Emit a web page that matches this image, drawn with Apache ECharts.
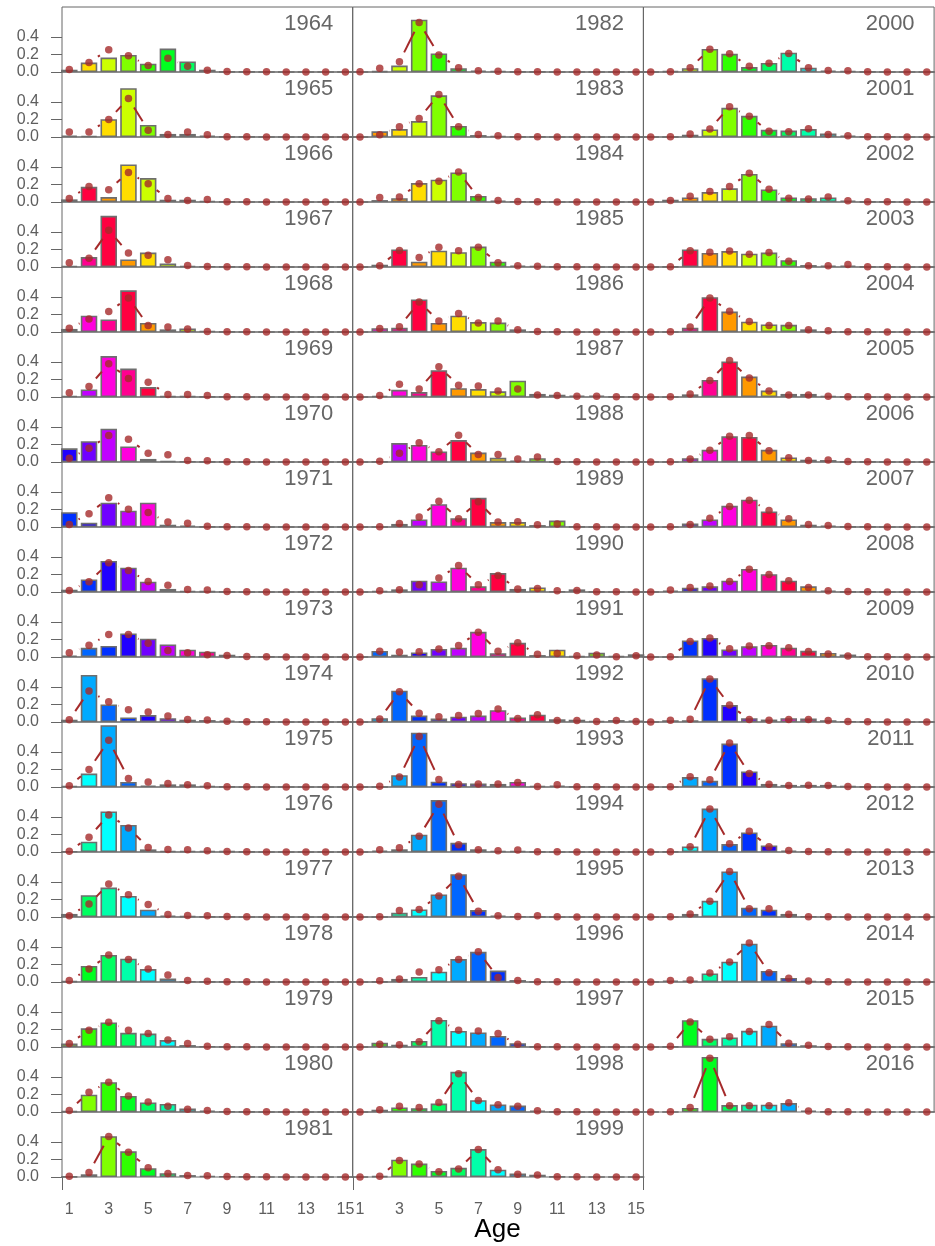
<!DOCTYPE html>
<html>
<head>
<meta charset="utf-8">
<script src="https://cdn.jsdelivr.net/npm/echarts@6/dist/echarts.min.js"></script>
<style>
  html, body { margin: 0; padding: 0; background: #ffffff; }
  #chart { width: 935px; height: 1246px; }
</style>
</head>
<body>
<div id="chart"></div>
<script>
// Age composition by year: observed proportions (bars) and expected proportions (points joined by a broken line)
const years = [
  1964, 1965, 1966, 1967, 1968, 1969, 1970, 1971, 1972, 1973, 1974, 1975, 1976, 1977, 1978, 1979, 1980, 1981,
  1982, 1983, 1984, 1985, 1986, 1987, 1988, 1989, 1990, 1991, 1992, 1993, 1994, 1995, 1996, 1997, 1998, 1999,
  2000, 2001, 2002, 2003, 2004, 2005, 2006, 2007, 2008, 2009, 2010, 2011, 2012, 2013, 2014, 2015, 2016
];
const ages = [1, 2, 3, 4, 5, 6, 7, 8, 9, 10, 11, 12, 13, 14, 15];

// observed proportion at age, one row per year
const observed = [
  [0.026,0.108,0.165,0.195,0.095,0.268,0.12,0.026,0.004,0.002,0.001,0,0,0,0],
  [0.015,0.012,0.203,0.558,0.138,0.035,0.035,0.015,0.004,0.002,0.001,0,0,0,0],
  [0.03,0.173,0.056,0.43,0.273,0.026,0.026,0.013,0.003,0.001,0,0,0,0,0],
  [0.01,0.113,0.585,0.087,0.165,0.04,0.013,0.005,0.002,0,0,0,0,0,0],
  [0.035,0.186,0.143,0.476,0.104,0.03,0.04,0.01,0.003,0,0,0,0,0,0],
  [0.013,0.087,0.468,0.325,0.113,0.009,0.008,0.004,0.002,0,0,0,0,0,0],
  [0.156,0.238,0.381,0.177,0.035,0.013,0.005,0.004,0.002,0,0,0,0,0,0],
  [0.169,0.048,0.277,0.186,0.277,0.026,0.017,0.004,0.002,0,0,0,0,0,0],
  [0.026,0.143,0.355,0.277,0.117,0.035,0.013,0.008,0.002,0,0,0,0,0,0],
  [0.017,0.105,0.127,0.27,0.21,0.144,0.083,0.061,0.026,0.005,0.002,0,0,0,0],
  [0.026,0.537,0.2,0.052,0.079,0.044,0.026,0.022,0.017,0.003,0.001,0,0,0,0],
  [0.01,0.153,0.707,0.057,0.017,0.03,0.03,0.013,0.004,0.001,0,0,0,0,0],
  [0.005,0.118,0.463,0.31,0.03,0.013,0.013,0.013,0.009,0.002,0,0,0,0,0],
  [0.035,0.249,0.336,0.24,0.083,0.017,0.009,0.004,0.002,0,0,0,0,0,0],
  [0.009,0.183,0.31,0.266,0.148,0.039,0.006,0.003,0.002,0,0,0,0,0,0],
  [0.039,0.214,0.28,0.162,0.153,0.079,0.022,0.006,0.003,0,0,0,0,0,0],
  [0.009,0.197,0.34,0.183,0.109,0.092,0.039,0.017,0.006,0.003,0.001,0,0,0,0],
  [0.004,0.031,0.467,0.293,0.1,0.044,0.022,0.013,0.006,0.002,0.001,0,0,0,0],
  [0,0.009,0.074,0.597,0.212,0.043,0.017,0.013,0.004,0.002,0,0,0,0,0],
  [0,0.065,0.091,0.182,0.476,0.126,0.022,0.013,0.004,0.002,0,0,0,0,0],
  [0,0.022,0.043,0.216,0.255,0.338,0.069,0.017,0.006,0.003,0,0,0,0,0],
  [0,0.026,0.2,0.061,0.186,0.169,0.234,0.061,0.017,0.01,0.004,0,0,0,0],
  [0,0.043,0.048,0.372,0.104,0.186,0.113,0.108,0.03,0.004,0.002,0,0,0,0],
  [0,0.013,0.082,0.056,0.307,0.1,0.091,0.065,0.186,0.035,0.026,0.017,0.017,0.004,0.002],
  [0,0.002,0.216,0.195,0.121,0.251,0.108,0.048,0.017,0.043,0.004,0.002,0,0,0],
  [0,0,0.035,0.087,0.26,0.1,0.333,0.056,0.056,0.022,0.074,0.003,0,0,0],
  [0,0.013,0.03,0.13,0.121,0.277,0.065,0.216,0.035,0.052,0.006,0.03,0.003,0,0],
  [0,0.07,0.026,0.052,0.092,0.105,0.288,0.044,0.162,0.022,0.083,0.009,0.048,0.009,0.031],
  [0,0.044,0.358,0.074,0.039,0.061,0.074,0.135,0.052,0.083,0.031,0.026,0.013,0.022,0.017],
  [0,0,0.135,0.62,0.061,0.044,0.039,0.035,0.057,0.013,0.017,0.003,0.002,0,0],
  [0,0.017,0.031,0.197,0.594,0.105,0.031,0.013,0.013,0.003,0.001,0,0,0,0],
  [0,0,0.048,0.087,0.258,0.489,0.079,0.017,0.006,0.003,0.001,0,0,0,0],
  [0,0.004,0.035,0.057,0.118,0.262,0.345,0.131,0.022,0.003,0.001,0,0,0,0],
  [0,0.048,0.026,0.07,0.31,0.183,0.166,0.127,0.044,0.004,0.002,0,0,0,0],
  [0,0.026,0.052,0.044,0.096,0.459,0.135,0.087,0.074,0.017,0.003,0.001,0,0,0],
  [0,0.009,0.197,0.153,0.07,0.105,0.319,0.083,0.039,0.026,0.003,0.001,0,0,0],
  [0,0.009,0.043,0.264,0.208,0.056,0.104,0.221,0.048,0.017,0.013,0.003,0,0,0],
  [0,0,0.026,0.087,0.333,0.242,0.082,0.074,0.091,0.039,0.017,0.004,0.002,0,0],
  [0,0.026,0.052,0.113,0.156,0.32,0.143,0.052,0.043,0.052,0.017,0.004,0.002,0,0],
  [0,0.002,0.2,0.16,0.182,0.152,0.165,0.078,0.022,0.017,0.017,0.004,0.002,0,0],
  [0,0,0.048,0.398,0.234,0.117,0.087,0.082,0.03,0.004,0.002,0,0,0,0],
  [0,0,0.03,0.195,0.407,0.234,0.074,0.035,0.035,0.013,0.003,0.001,0,0,0],
  [0,0,0.043,0.139,0.294,0.286,0.139,0.052,0.026,0.022,0.004,0.002,0,0,0],
  [0,0,0.039,0.087,0.242,0.312,0.177,0.087,0.026,0.017,0.004,0.002,0,0,0],
  [0,0.017,0.048,0.065,0.13,0.264,0.203,0.13,0.065,0.017,0.004,0.002,0,0,0],
  [0,0,0.189,0.217,0.087,0.122,0.138,0.106,0.071,0.047,0.028,0.004,0.002,0,0],
  [0,0.02,0.02,0.5,0.193,0.043,0.028,0.043,0.039,0.02,0.006,0.002,0,0,0],
  [0,0,0.114,0.071,0.496,0.177,0.035,0.024,0.024,0.024,0.008,0.002,0,0,0],
  [0,0.004,0.063,0.496,0.091,0.224,0.075,0.016,0.006,0.002,0,0,0,0,0],
  [0,0,0.035,0.185,0.52,0.106,0.083,0.035,0.006,0.002,0,0,0,0,0],
  [0,0.016,0.016,0.098,0.232,0.437,0.126,0.047,0.012,0.002,0,0,0,0,0],
  [0,0.003,0.307,0.094,0.11,0.185,0.244,0.043,0.02,0.004,0.002,0,0,0,0],
  [0,0,0.047,0.63,0.079,0.083,0.083,0.102,0.016,0.003,0.001,0,0,0,0]
];

// expected proportion at age, one row per year
const expected = [
  [0.03,0.11,0.255,0.186,0.074,0.156,0.065,0.02,0.005,0.003,0.002,0.001,0.001,0.001,0.001],
  [0.056,0.056,0.2,0.44,0.078,0.03,0.056,0.026,0.004,0.002,0.001,0.001,0.001,0.001,0.001],
  [0.04,0.178,0.14,0.338,0.208,0.04,0.017,0.03,0.004,0.002,0.001,0.001,0.001,0,0],
  [0.048,0.1,0.42,0.16,0.134,0.082,0.017,0.005,0.003,0.002,0.001,0.001,0,0,0],
  [0.043,0.15,0.234,0.39,0.074,0.056,0.035,0.005,0.003,0.002,0.001,0.001,0,0,0],
  [0.048,0.121,0.381,0.212,0.169,0.03,0.03,0.017,0.004,0.002,0.001,0.001,0,0,0],
  [0.043,0.156,0.303,0.26,0.1,0.082,0.017,0.013,0.004,0.002,0.001,0.001,0,0,0],
  [0.03,0.152,0.333,0.203,0.165,0.056,0.043,0.009,0.004,0.002,0.001,0.001,0,0,0],
  [0.017,0.117,0.333,0.247,0.121,0.078,0.03,0.022,0.005,0.002,0.001,0.001,0,0,0],
  [0.048,0.135,0.258,0.258,0.157,0.074,0.048,0.026,0.017,0.005,0.002,0.001,0,0,0],
  [0.026,0.354,0.231,0.14,0.114,0.07,0.03,0.022,0.01,0.003,0.002,0.001,0,0,0],
  [0.013,0.2,0.533,0.096,0.057,0.04,0.026,0.013,0.004,0.002,0.001,0,0,0,0],
  [0.009,0.17,0.424,0.275,0.052,0.03,0.026,0.013,0.005,0.002,0.001,0,0,0,0],
  [0.013,0.148,0.376,0.253,0.144,0.03,0.017,0.013,0.005,0.002,0.001,0,0,0,0],
  [0.017,0.148,0.31,0.258,0.148,0.079,0.017,0.009,0.004,0.002,0.001,0,0,0,0],
  [0.039,0.192,0.284,0.192,0.153,0.079,0.039,0.009,0.004,0.002,0.001,0,0,0,0],
  [0.017,0.227,0.34,0.183,0.114,0.066,0.031,0.017,0.006,0.003,0.002,0.001,0,0,0],
  [0.009,0.052,0.463,0.284,0.105,0.039,0.017,0.013,0.006,0.003,0.002,0.001,0,0,0],
  [0.002,0.043,0.117,0.567,0.195,0.048,0.013,0.009,0.004,0.002,0.001,0,0,0,0],
  [0,0.026,0.117,0.212,0.485,0.117,0.03,0.013,0.004,0.002,0.001,0,0,0,0],
  [0,0.052,0.056,0.208,0.238,0.342,0.052,0.017,0.006,0.003,0.001,0,0,0,0],
  [0,0.013,0.19,0.108,0.225,0.186,0.225,0.048,0.013,0.008,0.004,0.002,0,0,0],
  [0,0.039,0.061,0.342,0.126,0.212,0.104,0.126,0.026,0.006,0.003,0.001,0,0,0],
  [0,0.017,0.147,0.091,0.346,0.134,0.126,0.069,0.091,0.022,0.017,0.008,0.008,0.003,0.002],
  [0,0.009,0.1,0.221,0.117,0.307,0.087,0.087,0.035,0.056,0.005,0.002,0.001,0,0],
  [0,0.003,0.039,0.113,0.294,0.095,0.29,0.056,0.061,0.026,0.035,0.004,0.002,0,0],
  [0,0.013,0.026,0.082,0.16,0.303,0.082,0.19,0.035,0.039,0.013,0.017,0.004,0.002,0.001],
  [0,0.066,0.057,0.061,0.092,0.131,0.284,0.066,0.162,0.031,0.039,0.013,0.022,0.004,0.013],
  [0,0.035,0.345,0.1,0.061,0.074,0.096,0.148,0.039,0.083,0.017,0.017,0.006,0.017,0.006],
  [0,0.009,0.114,0.576,0.087,0.031,0.035,0.035,0.052,0.006,0.026,0.004,0.002,0.001,0.001],
  [0,0.026,0.048,0.179,0.546,0.083,0.026,0.013,0.022,0.004,0.002,0.001,0,0,0],
  [0,0.003,0.074,0.087,0.24,0.467,0.066,0.013,0.006,0.013,0.002,0.001,0,0,0],
  [0,0.013,0.035,0.114,0.14,0.258,0.345,0.052,0.017,0.004,0.002,0.001,0,0,0],
  [0,0.031,0.026,0.061,0.301,0.192,0.183,0.153,0.031,0.004,0.002,0.001,0,0,0],
  [0,0.026,0.066,0.052,0.109,0.437,0.131,0.083,0.066,0.013,0.004,0.002,0.001,0,0],
  [0,0.009,0.188,0.148,0.061,0.092,0.314,0.083,0.031,0.022,0.004,0.002,0.001,0,0],
  [0,0.003,0.048,0.26,0.208,0.065,0.1,0.212,0.048,0.017,0.013,0.004,0.001,0,0],
  [0,0.002,0.035,0.091,0.346,0.238,0.065,0.061,0.095,0.03,0.013,0.004,0.002,0.001,0],
  [0,0.017,0.065,0.121,0.177,0.329,0.147,0.043,0.035,0.056,0.013,0.004,0.002,0.001,0],
  [0,0.003,0.186,0.169,0.182,0.147,0.165,0.065,0.013,0.013,0.03,0.004,0.002,0.001,0],
  [0,0.002,0.056,0.39,0.238,0.121,0.074,0.074,0.026,0.013,0.004,0.002,0.001,0,0],
  [0,0.002,0.035,0.19,0.416,0.216,0.069,0.022,0.022,0.008,0.004,0.002,0.001,0,0],
  [0,0.002,0.035,0.134,0.294,0.303,0.13,0.048,0.017,0.022,0.006,0.003,0.001,0,0],
  [0,0.002,0.03,0.1,0.234,0.307,0.19,0.095,0.03,0.017,0.006,0.003,0.001,0,0],
  [0,0.022,0.052,0.069,0.121,0.26,0.199,0.13,0.052,0.013,0.005,0.003,0.001,0,0],
  [0,0.002,0.177,0.217,0.094,0.126,0.13,0.106,0.063,0.035,0.012,0.004,0.002,0.001,0],
  [0,0.02,0.031,0.492,0.193,0.028,0.02,0.028,0.028,0.016,0.006,0.003,0.001,0,0],
  [0,0.004,0.118,0.083,0.504,0.154,0.031,0.016,0.02,0.016,0.006,0.002,0.001,0,0],
  [0,0.004,0.059,0.492,0.094,0.236,0.059,0.016,0.006,0.003,0.001,0,0,0,0],
  [0,0.002,0.035,0.181,0.52,0.094,0.094,0.031,0.004,0.002,0.001,0,0,0,0],
  [0,0.016,0.024,0.102,0.228,0.445,0.106,0.043,0.012,0.003,0.001,0,0,0,0],
  [0,0.008,0.287,0.09,0.118,0.177,0.256,0.043,0.02,0.005,0.002,0.001,0,0,0],
  [0,0.002,0.051,0.614,0.071,0.071,0.071,0.106,0.012,0.004,0.002,0.001,0,0,0]
];

const yTicks = [0, 0.2, 0.4];
const xTicks = [1, 3, 5, 7, 9, 11, 13, 15];

// one colour per year class, repeating every 18 cohorts (index 0 = cohort 1964)
const cohortColors = [
  '#ff0040', '#ff0090', '#ff00dd', '#c000ff', '#7000ff', '#2000ff',
  '#0030ff', '#0066ff', '#00aaff', '#00ffff', '#00ffaa', '#00ff60',
  '#00ff20', '#30ff00', '#80ff00', '#ccff00', '#ffdd00', '#ff9900'
];
function cohortColor(cohort) {
  const k = (((cohort - 1964) % 18) + 18) % 18;
  return cohortColors[k];
}

const FONT = '"Liberation Sans", Arial, Helvetica, sans-serif';
const ROWS = 18;
const PANEL_H = 65;
const PANEL_W = 290.7;
const TOP = 7;
const LEFTS = [62, 352.7, 643.4];
const AXIS_GREY = '#666666';
const FIT_RED = '#a52a2a';
const POINT_GAP = 10.5;   // blank space left around each point by the joining segments
const FRAME_TAIL = 13;    // frame sides run a little past the last panel of a column

const grids = [], xAxes = [], yAxes = [], series = [], titles = [], frameLines = [];

// segments between neighbouring expected points, shortened at both ends so the points stand free
function gappedSegment(params, api) {
  const p0 = api.coord([api.value(0), api.value(1)]);
  const p1 = api.coord([api.value(2), api.value(3)]);
  const dx = p1[0] - p0[0], dy = p1[1] - p0[1];
  const d = Math.sqrt(dx * dx + dy * dy);
  if (d <= 2 * POINT_GAP) return { type: 'group', children: [] };
  const ux = dx / d, uy = dy / d;
  return {
    type: 'line',
    shape: {
      x1: p0[0] + ux * POINT_GAP, y1: p0[1] + uy * POINT_GAP,
      x2: p1[0] - ux * POINT_GAP, y2: p1[1] - uy * POINT_GAP
    },
    style: { stroke: FIT_RED, lineWidth: 2, lineCap: 'butt' }
  };
}

years.forEach((yr, i) => {
  const col = Math.floor(i / ROWS);
  const row = i % ROWS;
  const left = LEFTS[col];
  const top = TOP + row * PANEL_H;
  const bottomRow = (col < 2 && row === ROWS - 1);

  grids.push({
    left: left, top: top, width: PANEL_W, height: PANEL_H,
    show: true, borderColor: AXIS_GREY, borderWidth: 1, backgroundColor: 'transparent'
  });

  xAxes.push({
    gridIndex: i, type: 'value', min: 0.63, max: 15.37,
    axisLine: { show: false }, splitLine: { show: false },
    axisTick: { show: false },
    axisLabel: bottomRow ? {
      show: true, customValues: xTicks, margin: 25,
      color: '#5e5e5e', fontSize: 16, fontFamily: FONT
    } : { show: false }
  });

  yAxes.push({
    gridIndex: i, type: 'value', min: 0, max: 0.743,
    axisLine: { show: false }, splitLine: { show: false },
    axisTick: col === 0 ? {
      show: true, customValues: yTicks, length: 11,
      lineStyle: { color: AXIS_GREY, width: 1 }
    } : { show: false },
    axisLabel: col === 0 ? {
      show: true, customValues: yTicks, margin: 23,
      color: '#5e5e5e', fontSize: 16, fontFamily: FONT,
      formatter: v => v.toFixed(1)
    } : { show: false }
  });

  const obs = observed[i];
  const exp = expected[i];

  // observed proportions, coloured by year class
  series.push({
    type: 'bar', xAxisIndex: i, yAxisIndex: i, z: 2,
    barWidth: 16.5, silent: true, animation: false,
    data: ages.map((a, j) => ({
      value: [a, obs[j]],
      itemStyle: { color: cohortColor(yr - a) }
    })),
    itemStyle: { borderColor: '#6e6e6e', borderWidth: 1.6 }
  });

  // broken line joining the expected points
  series.push({
    type: 'custom', xAxisIndex: i, yAxisIndex: i, z: 3,
    silent: true, animation: false,
    data: ages.slice(0, -1).map((a, j) => [a, exp[j], ages[j + 1], exp[j + 1]]),
    encode: { x: [0, 2], y: [1, 3] },
    renderItem: gappedSegment
  });

  // expected proportions as points on top
  series.push({
    type: 'scatter', xAxisIndex: i, yAxisIndex: i, z: 4,
    data: ages.map((a, j) => [a, exp[j]]),
    symbol: 'circle', symbolSize: 7.5, silent: true, animation: false,
    itemStyle: { color: FIT_RED }
  });

  titles.push({
    text: String(yr),
    right: 935 - (left + PANEL_W) + 19.5,
    top: top + 6,
    padding: 0,
    textStyle: { fontSize: 22, fontWeight: 'normal', color: '#666666', fontFamily: FONT }
  });
});

// short extensions of the frame sides below the last full row
[0, 1, 2].forEach(c => {
  const x = Math.round(LEFTS[c]) + 0.5;
  const yEnd = TOP + ROWS * PANEL_H;
  frameLines.push({
    type: 'line', silent: true, z: 1,
    shape: { x1: x, y1: yEnd, x2: x, y2: yEnd + FRAME_TAIL },
    style: { stroke: AXIS_GREY, lineWidth: 1 }
  });
});

frameLines.push({
  type: 'text', silent: true,
  x: 497.5, y: 1217,
  style: { text: 'Age', fontSize: 26, fill: '#000000', fontFamily: FONT, textAlign: 'center', textVerticalAlign: 'top' }
});

const chart = echarts.init(document.getElementById('chart'), null, { renderer: 'canvas' });
chart.setOption({
  animation: false,
  backgroundColor: '#ffffff',
  title: titles,
  grid: grids,
  xAxis: xAxes,
  yAxis: yAxes,
  series: series,
  graphic: frameLines
});
</script>
</body>
</html>
